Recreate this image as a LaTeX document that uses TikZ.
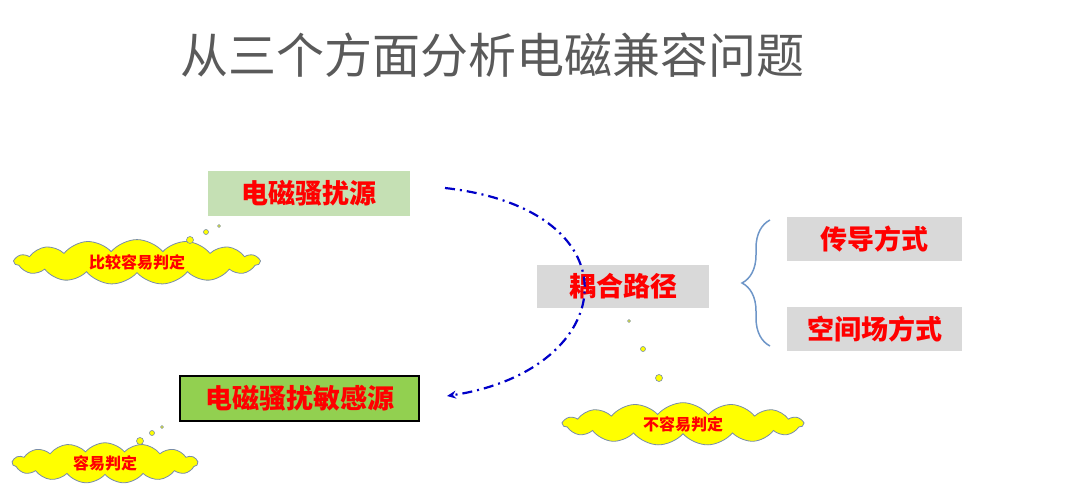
\documentclass[tikz,border=0pt]{standalone}
\usepackage{fontspec}
\setmainfont{Noto Sans CJK SC}
\usetikzlibrary{shapes.symbols,decorations.pathreplacing,arrows.meta}
\definecolor{tgray}{RGB}{90,90,90}
\definecolor{lgreen}{RGB}{197,224,180}
\definecolor{mgreen}{RGB}{146,208,80}
\definecolor{bgray}{RGB}{217,217,217}
\definecolor{cyel}{RGB}{255,255,0}
\definecolor{cline}{RGB}{120,140,170}
\definecolor{brc}{RGB}{110,150,200}
\definecolor{arr}{RGB}{0,0,200}
\tikzset{
  lbl/.style={font=\fontsize{27}{29}\selectfont\bfseries, text=red},
  puff/.style={cloud, cloud puffs=15, cloud puff arc=100, cloud ignores aspect, fill=cyel, draw=cline, line width=0.8pt, text=red, font=\fontsize{16}{18}\selectfont\bfseries},
  bub/.style={circle, fill=cyel, draw=cline, line width=0.6pt, inner sep=0pt}
}
\begin{document}
\begin{tikzpicture}[x=1pt,y=-1pt]
\useasboundingbox (0,0) rectangle (1078,500);
\node[text=tgray, font=\fontsize{48}{52}\selectfont] (title) at (492,55) {从三个方面分析电磁兼容问题};
\node[lbl, fill=lgreen, minimum width=202, minimum height=45] (src) at (309,193) {电磁骚扰源};
\node[lbl, fill=mgreen, draw=black, line width=1.6pt, minimum width=239, minimum height=45] (vic) at (299.5,398.5) {电磁骚扰敏感源};
\node[lbl, fill=bgray, minimum width=172, minimum height=43] (path) at (623,286.5) {耦合路径};
\node[lbl, fill=bgray, minimum width=175, minimum height=44] (cond) at (874.5,239) {传导方式};
\node[lbl, fill=bgray, minimum width=175, minimum height=44] (rad) at (874.5,329) {空间场方式};
\draw[brc, line width=1.5pt, decorate, decoration={brace, amplitude=28pt}] (770,346) -- (770,220);
\node[puff, minimum width=245, minimum height=42] (c1) at (137,262) {比较容易判定};
\node[puff, minimum width=185, minimum height=40] (c2) at (105,463) {容易判定};
\node[puff, minimum width=240, minimum height=38] (c3) at (683,424) {不容易判定};
\node[bub, minimum size=7] (d11) at (190,240) {};
\node[bub, minimum size=5] (d12) at (206,232) {};
\node[bub, minimum size=3] (d13) at (219,226) {};
\node[bub, minimum size=7] (d21) at (140,441) {};
\node[bub, minimum size=5] (d22) at (152,433) {};
\node[bub, minimum size=3] (d23) at (162,427) {};
\node[bub, minimum size=7] (d31) at (659,378) {};
\node[bub, minimum size=5] (d32) at (643,349) {};
\node[bub, minimum size=3] (d33) at (629,321) {};
\coordinate (a0) at (445,188);
\coordinate (a1) at (447,396);
\draw[arr, line width=2.2pt, dash pattern=on 10pt off 5pt on 2pt off 5pt, -{Stealth[length=9pt,width=8pt]}] (a0) .. controls (640,210) and (620,370) .. (a1);
\end{tikzpicture}
\end{document}
